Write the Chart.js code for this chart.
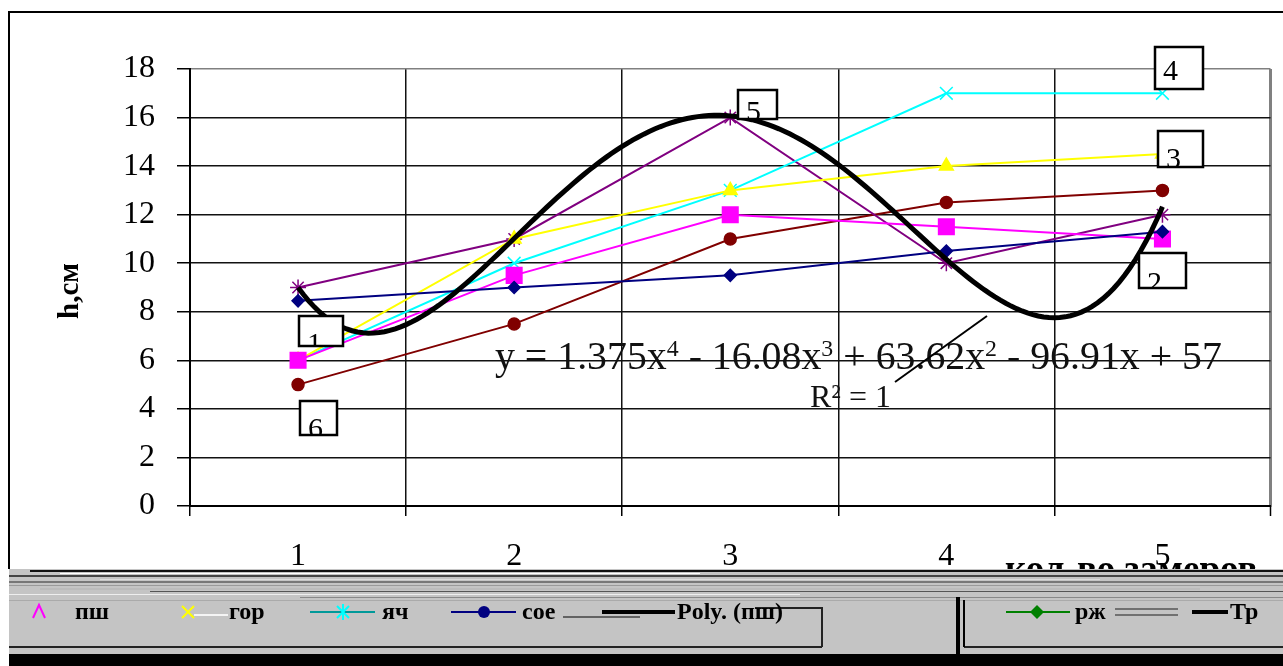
<!DOCTYPE html>
<html><head><meta charset="utf-8">
<script src="https://cdn.jsdelivr.net/npm/chart.js@4.4.1/dist/chart.umd.min.js"></script>
<style>html,body{margin:0;padding:0;background:#fff;overflow:hidden;}#wrap{position:relative;width:1283px;height:666px;}</style>
</head><body><div id="wrap"><canvas id="c"></canvas></div>
<script>
// ---- data ----
const categories = [1, 2, 3, 4, 5];
const soyValues = [8.45, 9, 9.5, 10.5, 11.3];
const wheatValues = [6, 9.5, 12, 11.5, 11];
const peaValues = [6, 11, 13, 14, 14.5];
const barleyValues = [6, 10, 13, 17, 17];
const ryeValues = [9, 11, 16, 10, 12];
const triticaleValues = [5, 7.5, 11, 12.5, 13];
const yTickValues = [0, 2, 4, 6, 8, 10, 12, 14, 16, 18];
const trendCoefficients = [1.375, -16.08, 63.62, -96.91, 57];
const equationText = [['y = 1.375x', 0], ['4', 1], [' - 16.08x', 0], ['3', 1], [' + 63.62x', 0], ['2', 1], [' - 96.91x + 57', 0]];
const rSquaredText = 'R² = 1';
const boxLabels = ['1', '2', '3', '4', '5', '6'];
const legendLabels = ['пш', 'гор', 'яч', 'сое', 'Poly. (пш)', 'рж', 'Тр'];
const yAxisTitle = 'h,см';
const xAxisTitle = 'кол-во замеров';

const toXY = vals => categories.map((c, i) => ({x: c, y: vals[i]}));
const trendPoints = [];
for (let k = 0; k <= 160; k++) {
  const x = categories[0] + (categories[categories.length - 1] - categories[0]) * k / 160;
  let y = 0;
  trendCoefficients.forEach((c, i) => { y += c * Math.pow(x, trendCoefficients.length - 1 - i); });
  trendPoints.push({x, y});
}

Chart.defaults.color = '#000';
const serif = '"Liberation Serif", "Times New Roman", serif';
Chart.defaults.font.family = serif;

const extras = {
  id: 'extras',
  afterDatasetsDraw(chart) {
    const ctx = chart.ctx, xs = chart.scales.x, ys = chart.scales.y;
    const sets = chart.data.datasets;
    ctx.save();
    // outer frame
    ctx.strokeStyle = '#000'; ctx.lineWidth = 2;
    ctx.beginPath(); ctx.moveTo(9, 569); ctx.lineTo(9, 12); ctx.lineTo(1283, 12); ctx.stroke();
    // y title
    ctx.save(); ctx.translate(71, 291); ctx.rotate(-Math.PI / 2);
    ctx.font = 'bold 29px ' + serif; ctx.textAlign = 'center'; ctx.textBaseline = 'middle'; ctx.fillStyle = '#000';
    ctx.fillText(yAxisTitle, 0, 0); ctx.restore();
    // equation
    const targetW = 727;
    const base = 28;
    const measure = (fs) => {
      let w = 0;
      equationText.forEach(([t, sup]) => { ctx.font = (sup ? fs * 0.6 : fs) + 'px ' + serif; w += ctx.measureText(t).width; });
      return w;
    };
    const fs = base * targetW / measure(base);
    let ex = 495;
    ctx.fillStyle = '#111'; ctx.textBaseline = 'alphabetic'; ctx.textAlign = 'left';
    equationText.forEach(([t, sup]) => {
      ctx.font = (sup ? fs * 0.6 : fs) + 'px ' + serif;
      ctx.fillText(t, ex, sup ? 369 - fs * 0.33 : 369);
      ex += ctx.measureText(t).width;
    });
    ctx.font = '32px ' + serif;
    ctx.fillText(rSquaredText, 810, 407);
    // leader line
    ctx.strokeStyle = '#000';
    ctx.beginPath(); ctx.lineWidth = 2; ctx.moveTo(895, 382); ctx.lineTo(987, 316); ctx.stroke();
    // numbered boxes anchored to series points: [datasetIndex, pointIndex, dx, dy, w, h, textDy]
    const boxes = [[1, 0, 1, 15, 44, 30, 37], [2, 4, -23, 14, 47, 35, 39], [3, 4, -4, -23, 45, 36, 37], [4, 4, -7, -46, 48, 42, 33], [5, 2, 8, -28, 39, 29, 31], [6, 0, 2, 16, 37, 34, 37]];
    boxes.forEach(([di, pi, dx, dy, w, h, tdy], n) => {
      const px = xs.getPixelForValue(sets[di].data[pi].x), py = ys.getPixelForValue(sets[di].data[pi].y);
      const bx = Math.round(px + dx), by = Math.round(py + dy);
      ctx.fillStyle = '#fff'; ctx.fillRect(bx, by, w, h);
      ctx.save(); ctx.beginPath(); ctx.rect(bx, by, w, h); ctx.clip();
      ctx.fillStyle = '#000'; ctx.font = '30px ' + serif; ctx.fillText(boxLabels[n], bx + 8, by + tdy); ctx.restore();
      ctx.strokeStyle = '#000'; ctx.lineWidth = 2.5; ctx.strokeRect(bx, by, w, h);
    });
    // x title (partly hidden by band)
    ctx.fillStyle = '#000'; ctx.font = 'bold 37px ' + serif; ctx.fillText(xAxisTitle, 1005, 581);
    // legend band
    ctx.fillStyle = '#c4c4c4'; ctx.fillRect(9, 569, 1274, 85);
    const streaks = [[570, 2, '#111', 30, 1283], [573, 1, '#fff', 60, 700], [575, 2, '#444', 9, 1283], [579, 1, '#ddd', 100, 1100], [581, 2, '#777', 9, 1283], [585, 1, '#999', 9, 1283], [588, 2, '#bbb', 40, 1200], [591, 1, '#555', 150, 1283], [594, 1, '#eee', 9, 800], [597, 1, '#888', 300, 1283], [600, 1, '#aaa', 9, 1283]];
    streaks.forEach(([y, lw, col, x0, x1]) => { ctx.fillStyle = col; ctx.fillRect(x0, y, x1 - x0, lw); });
    ctx.fillStyle = '#222';
    ctx.fillRect(9, 646, 813, 2); ctx.fillRect(964, 646, 319, 2);
    ctx.fillRect(821, 607, 2, 40); ctx.fillRect(755, 607, 67, 2);
    ctx.fillStyle = '#000'; ctx.fillRect(956, 597, 4, 57); ctx.fillRect(963, 600, 2, 47);
    ctx.fillRect(9, 654, 1274, 12);
    // legend entries
    const ly = 612;
    ctx.lineWidth = 2;
    ctx.strokeStyle = '#ff00ff'; ctx.beginPath(); ctx.moveTo(33, 618); ctx.lineTo(39, 605); ctx.lineTo(45, 618); ctx.stroke();
    ctx.strokeStyle = '#ffff00'; ctx.beginPath(); ctx.moveTo(182, 606); ctx.lineTo(194, 618); ctx.moveTo(194, 606); ctx.lineTo(182, 618); ctx.stroke();
    ctx.strokeStyle = '#f4f4f4'; ctx.beginPath(); ctx.moveTo(194, 615); ctx.lineTo(228, 615); ctx.stroke();
    ctx.strokeStyle = '#009999'; ctx.beginPath(); ctx.moveTo(310, ly); ctx.lineTo(375, ly); ctx.stroke();
    ctx.strokeStyle = '#00ffff'; ctx.beginPath(); ctx.moveTo(343, 604); ctx.lineTo(343, 620); ctx.moveTo(337, 606); ctx.lineTo(349, 618); ctx.moveTo(349, 606); ctx.lineTo(337, 618); ctx.stroke();
    ctx.strokeStyle = '#000080'; ctx.fillStyle = '#000080'; ctx.beginPath(); ctx.moveTo(451, ly); ctx.lineTo(516, ly); ctx.stroke();
    ctx.beginPath(); ctx.arc(484, ly, 6, 0, Math.PI * 2); ctx.fill();
    ctx.strokeStyle = '#000'; ctx.lineWidth = 4; ctx.beginPath(); ctx.moveTo(602, ly); ctx.lineTo(675, ly); ctx.stroke();
    ctx.lineWidth = 1; ctx.beginPath(); ctx.moveTo(563, 617); ctx.lineTo(640, 617); ctx.stroke();
    ctx.lineWidth = 2; ctx.strokeStyle = '#008000'; ctx.fillStyle = '#008000'; ctx.beginPath(); ctx.moveTo(1006, ly); ctx.lineTo(1070, ly); ctx.stroke();
    ctx.beginPath(); ctx.moveTo(1030, ly); ctx.lineTo(1037, ly - 7); ctx.lineTo(1044, ly); ctx.lineTo(1037, ly + 7); ctx.closePath(); ctx.fill();
    ctx.strokeStyle = '#555'; ctx.lineWidth = 1.5; ctx.beginPath(); ctx.moveTo(1115, 609); ctx.lineTo(1178, 609); ctx.moveTo(1115, 615); ctx.lineTo(1178, 615); ctx.stroke();
    ctx.strokeStyle = '#000'; ctx.lineWidth = 4; ctx.beginPath(); ctx.moveTo(1192, ly); ctx.lineTo(1228, ly); ctx.stroke();
    ctx.fillStyle = '#000'; ctx.font = 'bold 24px ' + serif; ctx.textBaseline = 'middle';
    const lx = [75, 229, 382, 522, 677, 1075, 1230];
    legendLabels.forEach((t, i) => ctx.fillText(t, lx[i], ly + 1));
    ctx.restore();
  }
};

const lineDs = (label, vals, color, style, radius) => ({
  label, data: toXY(vals), borderColor: color, backgroundColor: color, borderWidth: 2,
  pointStyle: style, pointRadius: radius, pointBorderColor: color, pointBackgroundColor: color,
  pointBorderWidth: 1.5, tension: 0, fill: false
});

new Chart(document.getElementById('c'), {
  type: 'line',
  data: {
    datasets: [
      {label: 'Poly. (пш)', data: trendPoints, borderColor: '#000', borderWidth: 5, pointRadius: 0, tension: 0, fill: false, order: -1},
      lineDs('сое', soyValues, '#000080', 'rectRot', 6),
      lineDs('пш', wheatValues, '#ff00ff', 'rect', 11),
      lineDs('гор', peaValues, '#ffff00', 'triangle', 8),
      lineDs('яч', barleyValues, '#00ffff', 'crossRot', 9),
      lineDs('рж', ryeValues, '#800080', 'star', 8),
      lineDs('Тр', triticaleValues, '#800000', 'circle', 6)
    ]
  },
  options: {
    responsive: true, maintainAspectRatio: false, animation: false,
    layout: {padding: {left: 0, top: 69, right: 3, bottom: 0}},
    plugins: {legend: {display: false}, tooltip: {enabled: false}},
    scales: {
      x: {
        type: 'linear', min: categories[0] - 0.5, max: categories[categories.length - 1] + 0.5,
        afterFit: s => { s.height = 160; s.paddingRight = 0; s.paddingLeft = 0; },
        afterBuildTicks: s => { const t = []; for (let v = s.min; v <= s.max + 1e-9; v += 0.5) t.push({value: Math.round(v * 2) / 2}); s.ticks = t; },
        ticks: {autoSkip: false, maxRotation: 0, padding: 21, font: {size: 32, family: serif}, color: '#000',
          callback: v => (Number.isInteger(v) && categories.includes(v)) ? String(v) : ''},
        grid: {
          color: c => (c.tick && Number.isInteger(c.tick.value)) ? 'rgba(0,0,0,0)' : (c.tick && c.tick.value >= categories[categories.length - 1] + 0.5 ? '#808080' : '#111'),
          lineWidth: c => (c.tick && c.tick.value >= categories[categories.length - 1] + 0.5) ? 3 : 1.5,
          tickLength: 10, tickWidth: 1.5,
          tickColor: c => (c.tick && Number.isInteger(c.tick.value)) ? 'rgba(0,0,0,0)' : '#000'
        },
        border: {display: true, color: '#000', width: 2}
      },
      y: {
        min: yTickValues[0], max: yTickValues[yTickValues.length - 1],
        afterFit: s => { s.width = 190; },
        afterBuildTicks: s => { s.ticks = yTickValues.map(v => ({value: v})); },
        ticks: {padding: 22, font: {size: 32, family: serif}, color: '#000'},
        grid: {
          color: c => (c.tick && c.tick.value === yTickValues[yTickValues.length - 1]) ? '#808080' : '#111',
          lineWidth: 1.5, tickLength: 13, tickColor: '#000', tickWidth: 1.5
        },
        border: {display: true, color: '#000', width: 2}
      }
    }
  },
  plugins: [extras]
});
</script></body></html>
